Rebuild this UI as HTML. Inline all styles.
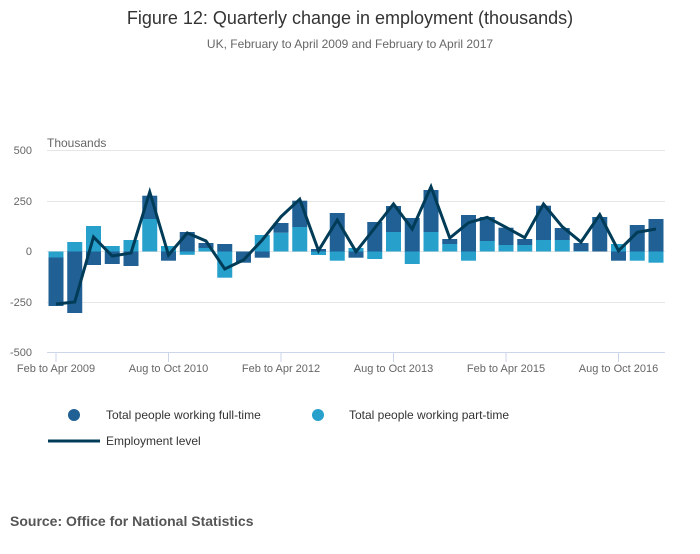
<!DOCTYPE html>
<html><head><meta charset="utf-8"><style>
body{margin:0;background:#fff;width:700px;height:549px;overflow:hidden;font-family:"Liberation Sans",sans-serif}
</style></head><body>
<svg width="700" height="549" xmlns="http://www.w3.org/2000/svg" font-family="Liberation Sans, sans-serif">
<text x="350" y="24" text-anchor="middle" font-size="18" fill="#333">Figure 12: Quarterly change in employment (thousands)</text>
<text x="350" y="48" text-anchor="middle" font-size="12" fill="#666">UK, February to April 2009 and February to April 2017</text>
<text x="47" y="147" font-size="12" fill="#666">Thousands</text>
<g stroke="#e6e6e6" stroke-width="1">
<line x1="47" x2="665" y1="150.5" y2="150.5"/><line x1="47" x2="665" y1="201.5" y2="201.5"/>
<line x1="47" x2="665" y1="251.5" y2="251.5"/><line x1="47" x2="665" y1="302.5" y2="302.5"/>
</g>
<g font-size="11" fill="#666" text-anchor="end">
<text x="32" y="154">500</text><text x="32" y="205">250</text><text x="32" y="255">0</text>
<text x="32" y="306">-250</text><text x="32" y="356">-500</text>
</g>
<g id="bars"></g>
<polyline id="ln" fill="none" stroke="#003c57" stroke-width="3" stroke-linejoin="miter"/>
<line x1="47" x2="665" y1="352.5" y2="352.5" stroke="#ccd6eb"/>
<g stroke="#ccd6eb"><line x1="56" x2="56" y1="352" y2="362"/><line x1="168.5" x2="168.5" y1="352" y2="362"/><line x1="281" x2="281" y1="352" y2="362"/><line x1="393.5" x2="393.5" y1="352" y2="362"/><line x1="506" x2="506" y1="352" y2="362"/><line x1="618.5" x2="618.5" y1="352" y2="362"/></g>
<g font-size="11" fill="#666" text-anchor="middle">
<text x="56" y="372">Feb to Apr 2009</text><text x="168.5" y="372">Aug to Oct 2010</text><text x="281" y="372">Feb to Apr 2012</text>
<text x="393.5" y="372">Aug to Oct 2013</text><text x="506" y="372">Feb to Apr 2015</text><text x="618.5" y="372">Aug to Oct 2016</text>
</g>
<circle cx="74" cy="415" r="6" fill="#206095"/><text x="106" y="419" font-size="12" fill="#333">Total people working full-time</text>
<circle cx="318" cy="415" r="6" fill="#27a0cc"/><text x="349" y="419" font-size="12" fill="#333">Total people working part-time</text>
<line x1="48" x2="100" y1="441" y2="441" stroke="#003c57" stroke-width="3"/><text x="106" y="445" font-size="12" fill="#333">Employment level</text>
<text x="10" y="526" font-size="14" font-weight="bold" fill="#555">Source: Office for National Statistics</text>
</svg>
<script>
var Z=251.5;
var F=[306,313,265,264,266,null,260.7,232,null,244,262.7,257.7,null,null,249,213,257.7,222,null,218,null,null,215,null,null,null,null,null,null,217,260.7,225,219];
var P=[257.5,242,226,246,240,219,246,254.8,248,277.7,null,235,232.7,227,255,260.7,248,259,232,264,232,244,260.7,241,245,245,240,240,251,null,244,260.7,262.7];
var FS={5:195.7,8:243,12:223,13:200.7,18:206,20:190,21:239,23:217,24:227.7,25:239,26:205.7,27:228,28:243};
var L=[304,302,237,256,253,192,255,233,241,269,260,240,216.7,199.3,250.7,220,251.7,228,204,229,186.7,238,222.7,217.3,227.3,237.7,204,226.7,242,214.7,250.7,232.3,229];
var g=document.getElementById('bars'),s='',pts=[];
function r(x,y1,y2,c){var a=Math.min(y1,y2),b=Math.max(y1,y2);s+='<rect x="'+(x-7.5)+'" y="'+a+'" width="15" height="'+(b-a)+'" fill="'+c+'"/>';}
for(var i=0;i<33;i++){var x=56+i*18.75,p=P[i],f=F[i];
 var pb=Z,nb=Z;
 if(p!=null){ r(x,Z,p,'#27a0cc'); if(p<Z)pb=p; else nb=p; }
 if(FS[i]!=null){r(x,pb,FS[i],'#206095');}
 else if(f!=null){ if(f<Z){r(x,pb,f,'#206095');} else {r(x,nb,f,'#206095');} }
 pts.push(x+','+L[i]);}
g.innerHTML=s;document.getElementById('ln').setAttribute('points',pts.join(' '));
</script>
</body></html>
